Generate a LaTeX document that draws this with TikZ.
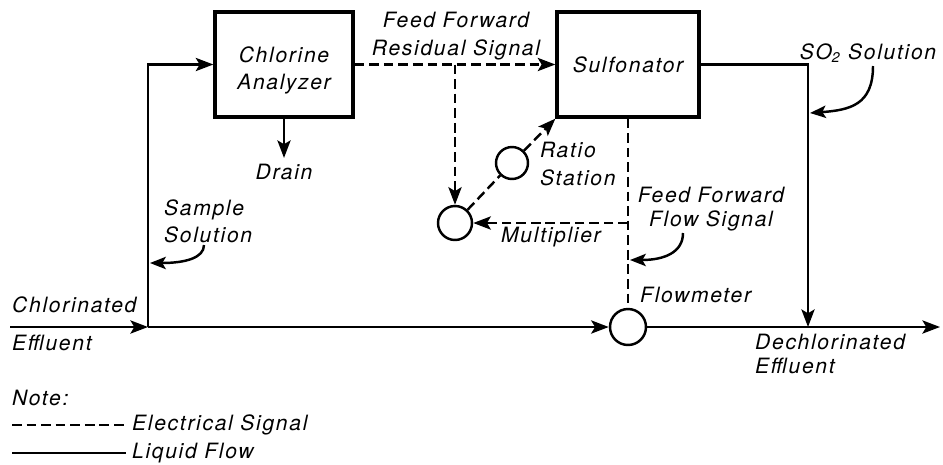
\documentclass[tikz,border=0pt]{standalone}
\usepackage{fontspec}
\setmainfont{TeX Gyre Heros}[LetterSpace=8]
\usetikzlibrary{arrows.meta}

\begin{document}
\begin{tikzpicture}[x=0.02cm, y=-0.02cm,
	font=\fontsize{12}{15.5}\selectfont\itshape,
	unit/.style={draw, line width=1.9pt, minimum width=#1, minimum height=2.1cm, align=center},
	dev/.style={draw, circle, line width=1.4pt, minimum size=#1, inner sep=0pt},
	pipe/.style={line width=1.4pt},
	sig/.style={line width=1.4pt, dash pattern=on 5.5pt off 2.8pt},
	tip/.style={-{Stealth[length=10pt, width=7.5pt, inset=2.2pt]}},
	call/.style={line width=1.4pt, -{Stealth[length=9pt, width=7pt, inset=2pt]}}]
	%%%%% START %%%%%
	
	\useasboundingbox (0, 0) rectangle (943, 464);
	
	% units and instruments
	\node[unit=2.76cm] (ana) at (284, 64.5) {\raisebox{-6.5pt}[0pt][0pt]{\begin{tabular}{@{}c@{}}Chlorine\\Analyzer\end{tabular}}};
	\node[unit=2.84cm] (sul) at (628, 64.5) {Sulfonator};
	\node[dev=0.68cm] (mul) at (455, 223) {};
	\node[dev=0.64cm] (rat) at (512, 163) {};
	\node[dev=0.72cm] (fm) at (628, 327) {};
	
	\coordinate (in) at (10, 327);
	\coordinate (j1) at (148, 327);
	\coordinate (j2) at (808, 327);
	\coordinate (out) at (940, 327);
	\coordinate (br) at (455, 64.5);
	\coordinate (tm) at (628, 223);
	
	% liquid flow
	\draw[pipe, tip] (in) -- (j1);
	\draw[pipe, tip] (j1) |- (ana.west);
	\draw[pipe, tip] (j1) -- (fm.west);
	\draw[pipe, tip] (fm.east) -- (out);
	\draw[pipe, tip] (sul.east) -| (j2);
	\node (drain) at (284, 172) {Drain};
	\draw[pipe, tip] (ana.south) -- (drain.north);
	
	% electrical signals
	\draw[sig, tip] (ana.east) -- (sul.west);
	\draw[sig, tip] (br) -- (mul.north);
	\draw[sig] (mul) -- (rat);
	\draw[sig, tip] (rat) -- (sul.south west);
	\draw[sig] (sul.south) -- (fm.north);
	\draw[sig, tip] (tm) -- (mul.east);
	
	% labels
	\node[align=center] (ffr) at (456, 36) {Feed Forward\\Residual Signal};
	\node[anchor=west, align=left] (ratl) at (534, 164) {Ratio\\Station};
	\node (mull) at (551, 237) {Multiplier};
	\node[align=center] (ffl) at (711, 209) {Feed Forward\\[-1.5pt]Flow Signal};
	\node[anchor=west] (fml) at (634, 295) {Flowmeter};
	\node (so2) at (868, 53) {SO\textsubscript{2} Solution};
	\node[anchor=west, align=left] (samp) at (158, 221) {Sample\\Solution};
	\node[anchor=west] (chl) at (6, 305) {Chlorinated};
	\node[anchor=west] (eff) at (6, 343) {Effluent};
	\node[anchor=west, align=left] (dech) at (749, 354) {Dechlorinated\\[-2.3pt]Effluent};
	
	% call-outs
	\coordinate (c1) at (204, 245);
	\coordinate (c2) at (873, 66);
	\coordinate (c3) at (683, 233);
	\draw[call] (c1) .. controls (204, 258) and (185, 263) .. (150, 263);
	\draw[call] (c2) .. controls (873, 105) and (850, 110) .. (810, 113);
	\draw[call] (c3) .. controls (683, 252) and (665, 260) .. (630, 260);
	
	% legend
	\node[anchor=west] (note) at (6, 398) {Note:};
	\node[anchor=west] (esig) at (126, 425) {Electrical Signal};
	\node[anchor=west] (liq) at (126, 453) {Liquid Flow};
	\coordinate (e0) at (12, 425);
	\coordinate (l0) at (12, 453);
	\draw[sig] (e0) -- (esig.west);
	\draw[pipe] (l0) -- (liq.west);
	
	%%%%% END %%%%%
\end{tikzpicture}
\end{document}
